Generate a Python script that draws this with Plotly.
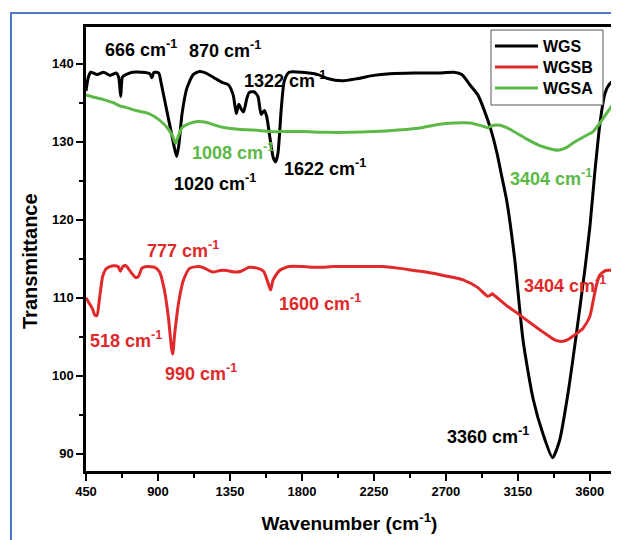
import plotly.graph_objects as go

# ---- data ----
wgs_x = [450, 465, 480, 520, 560, 600, 640, 655, 667, 678, 700, 740, 800, 850, 862, 875, 905,
         920, 950, 985, 1005, 1017, 1030, 1050, 1080, 1120, 1160, 1200, 1250, 1300, 1340, 1370,
         1390, 1405, 1420, 1435, 1455, 1470, 1500, 1525, 1545, 1565, 1580, 1600, 1620, 1635,
         1650, 1670, 1690, 1720, 1800, 1900, 1960, 2050, 2150, 2250, 2350, 2500, 2650, 2750,
         2800, 2850, 2900, 2935, 2985, 3020, 3050, 3080, 3130, 3183, 3246, 3308, 3367, 3412,
         3464, 3517, 3569, 3600, 3631, 3665, 3695, 3720, 3745]
wgs_y = [136.5, 138.3, 138.9, 138.6, 138.9, 138.5, 138.8, 138.2, 135.8, 138.3, 138.6, 138.9,
         138.9, 138.7, 138.2, 138.9, 138.8, 137.5, 134.5, 131.0, 129.0, 128.1, 129.5, 133.5,
         136.8, 138.6, 139.0, 138.8, 138.2, 137.6, 137.3, 136.0, 133.6, 134.8, 134.2, 133.8,
         135.5, 136.3, 136.4, 135.8, 133.5, 134.0, 133.2, 130.5, 128.0, 127.4, 128.5, 134.0,
         137.8, 138.9, 138.9, 138.6, 138.1, 137.8, 138.1, 138.5, 138.7, 138.8, 138.8, 138.9,
         138.6, 137.3, 136.0, 134.3, 131.3, 128.5, 125.5, 122.5, 115.0, 104.5, 97.0, 92.5,
         89.5, 91.8, 97.8, 105.5, 113.6, 119.0, 126.0, 132.6, 136.2, 137.3, 137.8]

wgsb_x = [450, 470, 490, 505, 518, 535, 555, 580, 620, 650, 665, 680, 700, 730, 760, 777, 800,
          830, 880, 910, 940, 965, 985, 992, 1005, 1030, 1060, 1100, 1160, 1200, 1240, 1290,
          1330, 1380, 1420, 1470, 1520, 1560, 1590, 1604, 1620, 1660, 1720, 1800, 1900, 2000,
          2100, 2200, 2300, 2400, 2500, 2600, 2700, 2808, 2900, 2960, 2975, 2990, 3010, 3080,
          3162, 3240, 3308, 3380, 3423, 3460, 3496, 3558, 3600, 3620, 3640, 3662, 3700, 3745]
wgsb_y = [110.0, 109.3, 108.6, 107.8, 107.7, 110.0, 112.8, 113.8, 114.1, 114.0, 113.4, 114.0,
          114.1, 113.3, 112.6, 112.7, 113.8, 114.0, 113.9, 113.3, 111.0, 107.5, 103.5, 102.8,
          105.5, 109.5, 112.3, 113.8, 114.0, 113.7, 113.3, 113.5, 113.5, 113.3, 113.4, 113.9,
          113.8, 113.4, 111.8, 111.0, 112.3, 113.5, 114.0, 114.0, 113.9, 114.0, 114.0, 114.0,
          114.0, 113.8, 113.5, 113.2, 112.8, 112.3, 111.3, 110.2, 110.3, 110.5, 110.2, 109.0,
          107.8, 106.6, 105.6, 104.6, 104.4, 104.6, 105.1, 106.1, 107.6, 109.5, 111.5, 112.9,
          113.5, 113.5]

wgsa_x = [450, 500, 560, 620, 660, 700, 760, 830, 880, 930, 965, 990, 1010, 1025, 1050, 1090,
          1150, 1200, 1260, 1320, 1400, 1500, 1600, 1700, 1800, 1950, 2100, 2250, 2400, 2550,
          2650, 2750, 2850, 2930, 2960, 3000, 3040, 3100, 3200, 3300, 3400, 3450, 3500, 3560,
          3620, 3660, 3700, 3745]
wgsa_y = [136.0, 135.7, 135.4, 135.0, 134.6, 134.4, 134.0, 133.7, 133.2, 132.4, 131.6, 130.8,
          129.8, 130.6, 131.8, 132.3, 132.6, 132.5, 132.1, 131.8, 131.6, 131.5, 131.3, 131.3,
          131.3, 131.2, 131.2, 131.3, 131.5, 131.8, 132.2, 132.4, 132.4, 132.0, 131.8, 132.1,
          132.1, 131.6, 130.4, 129.4, 128.9, 129.2, 129.9, 130.6, 131.3, 132.3, 133.5, 134.8]

series_names = ["WGS", "WGSB", "WGSA"]
x_ticks = [450, 900, 1350, 1800, 2250, 2700, 3150, 3600]
y_ticks = [90, 100, 110, 120, 130, 140]

peak_labels = ["666 cm<sup>-1</sup>", "870 cm<sup>-1</sup>", "1322 cm<sup>-1</sup>",
               "1020 cm<sup>-1</sup>", "1622 cm<sup>-1</sup>", "3360 cm<sup>-1</sup>",
               "1008 cm<sup>-1</sup>", "3404 cm<sup>-1</sup>",
               "777 cm<sup>-1</sup>", "518 cm<sup>-1</sup>", "990 cm<sup>-1</sup>",
               "1600 cm<sup>-1</sup>", "3404 cm<sup>-1</sup>"]

# ---- styling / placement ----
BLACK = "#000000"
RED = "#e0292b"
GREEN = "#5cb947"
colors = [BLACK, RED, GREEN]
label_colors = [BLACK] * 6 + [GREEN] * 2 + [RED] * 5
# label anchor (left x in wavenumber, y in transmittance)
label_pos = [(556, 142.0), (1081, 141.8), (1425, 138.0), (987, 124.8), (1675, 126.7),
             (2694, 92.4), (1100, 128.7), (3087, 125.4), (819, 116.2), (463, 104.6),
             (931, 100.4), (1644, 109.4), (3175, 111.7)]

FONT = "Liberation Sans, Arial, sans-serif"

fig = go.Figure()
for name, xs, ys, c in zip(series_names, [wgs_x, wgsb_x, wgsa_x], [wgs_y, wgsb_y, wgsa_y], colors):
    fig.add_trace(go.Scatter(x=xs, y=ys, mode="lines", name=name, showlegend=False,
                             line=dict(color=c, width=3, shape="spline", smoothing=0.6)))

for txt, (lx, ly), c in zip(peak_labels, label_pos, label_colors):
    fig.add_annotation(x=lx, y=ly, text="<b>" + txt + "</b>", showarrow=False,
                       xanchor="left", yanchor="middle",
                       font=dict(family=FONT, size=18, color=c))

# outer blue frame
fig.add_shape(type="rect", xref="paper", yref="paper",
              x0=-0.1423, y0=-0.3, x1=1.2, y1=1.0315,
              line=dict(color="#4a7cc4", width=2), fillcolor="rgba(0,0,0,0)", layer="below")

# legend box drawn by hand (paper coordinates)
fig.add_shape(type="rect", xref="paper", yref="paper",
              x0=0.7685, y0=0.8243, x1=0.981, y1=0.9932,
              line=dict(color="#555555", width=1), fillcolor="white", layer="above")
leg_rows = [0.9572, 0.9099, 0.8626]
for name, c, yr in zip(series_names, colors, leg_rows):
    fig.add_shape(type="line", xref="paper", yref="paper",
                  x0=0.776, x1=0.8577, y0=yr, y1=yr, line=dict(color=c, width=3), layer="above")
    fig.add_annotation(xref="paper", yref="paper", x=0.8634, y=yr, text="<b>" + name + "</b>",
                       showarrow=False, xanchor="left", yanchor="middle",
                       font=dict(family=FONT, size=16, color="black"))

# y-axis title as rotated annotation
fig.add_annotation(xref="paper", yref="paper", x=(30 - 86) / 527, y=(471 - 261) / 444,
                   text="<b>Transmittance</b>", textangle=-90, showarrow=False,
                   xanchor="center", yanchor="middle",
                   font=dict(family=FONT, size=20, color="black"))

# page body has an 8px margin, so the figure is 8px smaller and offset
fig.update_layout(
    width=611, height=532,
    margin=dict(l=78, r=6, t=19, b=69, autoexpand=False),
    paper_bgcolor="white", plot_bgcolor="white",
    font=dict(family=FONT, color="black"),
    showlegend=False,
)
fig.update_xaxes(range=[450, 3745], tickvals=x_ticks, ticktext=[f"<b>{v}</b>" for v in x_ticks],
                 ticks="outside", ticklen=7, tickwidth=2, tickcolor="black",
                 minor=dict(dtick=225, tick0=450, ticks="outside", ticklen=4, tickwidth=2, tickcolor="black"),
                 showline=True, linewidth=2.5, linecolor="black", mirror=True,
                 showgrid=False, zeroline=False, automargin=False,
                 tickfont=dict(family=FONT, size=13, color="black"),
                 title=dict(text="<b>Wavenumber (cm<sup>-1</sup>)</b>", standoff=19,
                            font=dict(family=FONT, size=19, color="black")))
fig.update_yaxes(range=[87.8, 144.7], tickvals=y_ticks, ticktext=[f"<b>{v}</b>" for v in y_ticks],
                 ticks="outside", ticklen=7, tickwidth=2, tickcolor="black",
                 minor=dict(dtick=5, tick0=90, ticks="outside", ticklen=4, tickwidth=2, tickcolor="black"),
                 showline=True, linewidth=2.5, linecolor="black", mirror=True,
                 showgrid=False, zeroline=False, automargin=False,
                 tickfont=dict(family=FONT, size=13, color="black"))

fig.write_html("out.html")
